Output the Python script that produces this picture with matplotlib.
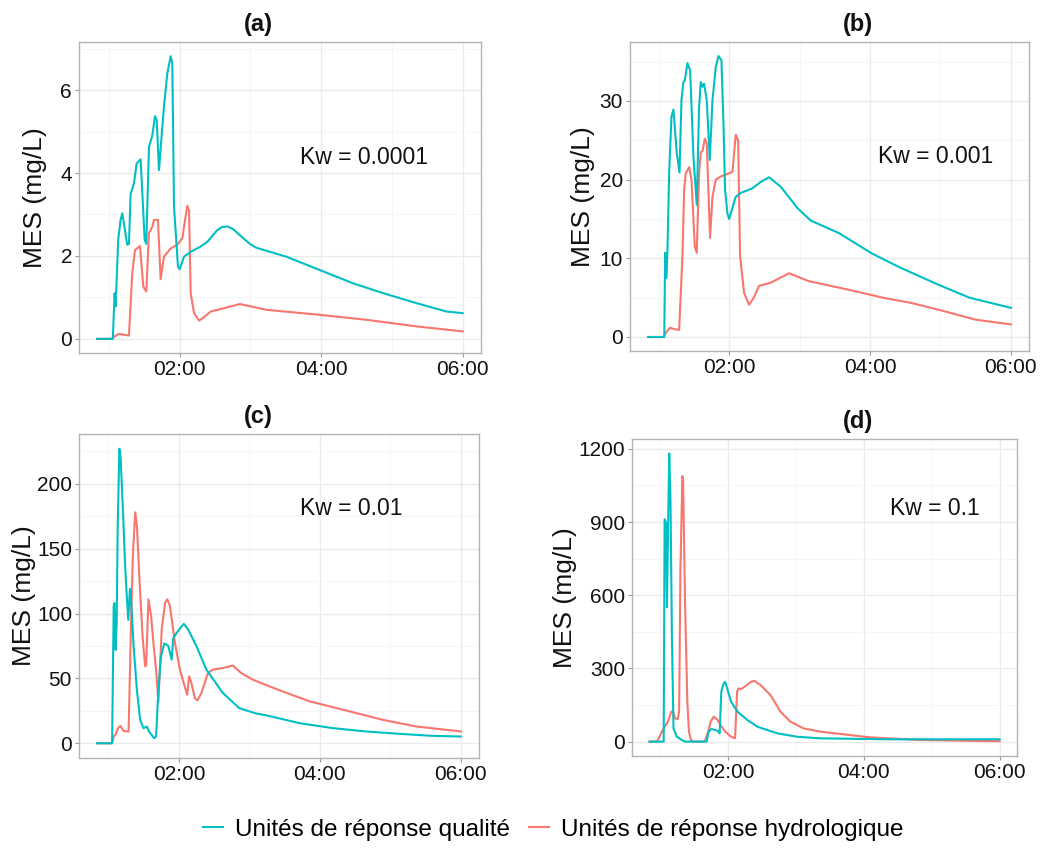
import matplotlib
matplotlib.use("Agg")
import matplotlib.pyplot as plt
from matplotlib.lines import Line2D
from matplotlib.ticker import FuncFormatter, MultipleLocator

plt.rcParams["font.family"] = ["Liberation Sans", "DejaVu Sans"]

teal = "#00BFC4"
red = "#F8766D"
label_q = "Unités de réponse qualité"
label_h = "Unités de réponse hydrologique"

# time in decimal hours, MES in mg/L

# (a) Kw = 0.0001
a_t_q = [0.835, 1.047, 1.055, 1.080, 1.094, 1.132, 1.165, 1.189, 1.259, 1.283, 1.307, 1.354,
         1.392, 1.448, 1.505, 1.528, 1.566, 1.613, 1.651, 1.675, 1.708, 1.731, 1.778, 1.825,
         1.873, 1.896, 1.920, 1.976, 2.000, 2.061, 2.156, 2.290, 2.392, 2.470, 2.530, 2.600,
         2.680, 2.760, 2.850, 3.000, 3.080, 3.510, 3.980, 4.450, 4.880, 5.350, 5.770, 6.000]
a_q = [0, 0, 0, 1.10, 0.78, 2.40, 2.87, 3.03, 2.27, 2.29, 3.50, 3.75,
       4.23, 4.33, 2.40, 2.29, 4.63, 4.90, 5.37, 5.28, 4.07, 4.60, 5.60, 6.40,
       6.82, 6.64, 3.19, 1.74, 1.68, 1.98, 2.10, 2.22, 2.34, 2.50, 2.62, 2.70,
       2.71, 2.64, 2.50, 2.28, 2.20, 1.98, 1.66, 1.34, 1.10, 0.86, 0.66, 0.62]
a_t_h = [0.835, 1.047, 1.071, 1.142, 1.212, 1.283, 1.330, 1.368, 1.439, 1.486, 1.528, 1.566,
         1.613, 1.637, 1.693, 1.731, 1.778, 1.873, 1.967, 2.038, 2.061, 2.108, 2.132, 2.156,
         2.203, 2.274, 2.340, 2.439, 2.627, 2.850, 3.230, 3.980, 4.640, 5.350, 6.000]
a_h = [0, 0, 0.05, 0.12, 0.10, 0.08, 1.58, 2.14, 2.24, 1.26, 1.14, 2.55,
       2.70, 2.87, 2.87, 1.44, 1.98, 2.18, 2.27, 2.43, 2.70, 3.21, 3.10, 1.10,
       0.62, 0.44, 0.52, 0.66, 0.74, 0.84, 0.70, 0.58, 0.46, 0.30, 0.18]

# (b) Kw = 0.001
b_t_q = [0.851, 1.069, 1.080, 1.092, 1.111, 1.125, 1.149, 1.182, 1.210, 1.258, 1.296, 1.324,
         1.352, 1.371, 1.409, 1.447, 1.494, 1.541, 1.574, 1.598, 1.622, 1.645, 1.683, 1.726,
         1.764, 1.811, 1.849, 1.891, 1.920, 1.943, 1.976, 2.000, 2.094, 2.165, 2.331, 2.449,
         2.567, 2.733, 2.969, 3.158, 3.560, 4.030, 4.410, 4.930, 5.410, 6.000]
b_q = [0, 0, 0, 10.7, 7.5, 11.1, 20.8, 28.0, 28.9, 23.3, 20.9, 30.1,
       32.4, 32.6, 34.8, 33.9, 22.9, 16.8, 29.2, 32.4, 31.8, 32.2, 30.1, 22.5,
       30.1, 34.3, 35.7, 35.2, 27.1, 18.7, 15.7, 15.0, 17.8, 18.3, 18.9, 19.7,
       20.3, 19.1, 16.4, 14.8, 13.2, 10.6, 8.9, 6.8, 5.0, 3.7]
b_t_h = [0.851, 1.069, 1.102, 1.163, 1.220, 1.291, 1.338, 1.362, 1.385, 1.433, 1.466, 1.513,
         1.541, 1.574, 1.598, 1.622, 1.655, 1.683, 1.730, 1.764, 1.811, 1.882, 2.000, 2.047,
         2.071, 2.094, 2.128, 2.156, 2.213, 2.284, 2.350, 2.426, 2.591, 2.851, 3.130, 3.700,
         4.180, 4.600, 5.000, 5.500, 6.000]
b_h = [0, 0, 0.55, 1.18, 1.00, 0.90, 10.3, 18.7, 20.8, 21.6, 20.0, 11.5,
       10.7, 20.8, 23.5, 23.6, 25.2, 24.6, 12.6, 17.8, 20.0, 20.4, 20.8, 21.0,
       23.3, 25.7, 25.0, 10.3, 5.6, 4.1, 5.0, 6.5, 6.9, 8.1, 7.1, 6.0,
       5.0, 4.3, 3.4, 2.2, 1.6]

# (c) Kw = 0.01
c_t_q = [0.840, 1.052, 1.075, 1.085, 1.103, 1.117, 1.131, 1.155, 1.174, 1.207, 1.235, 1.263,
         1.282, 1.305, 1.324, 1.357, 1.404, 1.451, 1.498, 1.545, 1.577, 1.648, 1.676, 1.709,
         1.746, 1.793, 1.850, 1.897, 1.920, 1.967, 2.038, 2.070, 2.131, 2.249, 2.390, 2.624,
         2.859, 3.094, 3.240, 3.469, 3.710, 4.180, 4.650, 5.120, 5.600, 6.000]
c_q = [0, 0, 105.8, 108, 72, 93, 165, 227, 219, 178, 139, 111,
       95, 119, 108, 75, 41, 18, 11.6, 12.9, 9, 3.9, 5.2, 41,
       67, 77, 75, 64.5, 81, 85, 90, 92, 87.7, 74.8, 56.8, 38.7,
       27, 23, 21.5, 18.6, 15.5, 11.7, 9.1, 7.3, 5.7, 5.2]
c_t_h = [0.840, 1.052, 1.075, 1.099, 1.136, 1.169, 1.216, 1.286, 1.319, 1.347, 1.380, 1.404,
         1.441, 1.484, 1.521, 1.535, 1.568, 1.606, 1.638, 1.676, 1.709, 1.756, 1.803, 1.836,
         1.873, 1.944, 2.014, 2.117, 2.146, 2.178, 2.225, 2.263, 2.319, 2.413, 2.484, 2.624,
         2.765, 2.883, 3.047, 3.282, 3.469, 3.850, 4.420, 4.890, 5.360, 6.000]
c_h = [0, 0, 5.2, 6.5, 11.6, 13.4, 9.5, 9, 87.7, 144.5, 178, 167.7,
       126, 82.6, 59.3, 60, 111, 98, 77.4, 56.8, 32, 87.7, 108, 111,
       105.8, 77.4, 56.8, 37.4, 51.6, 46.4, 34.8, 33, 38.7, 54.2, 56.8, 58,
       59.9, 54.2, 49, 43.9, 40, 32.4, 24.6, 18.1, 13, 9.1]

# (d) Kw = 0.1
d_t_q = [0.840, 1.049, 1.063, 1.083, 1.097, 1.112, 1.131, 1.150, 1.170, 1.194, 1.243, 1.316,
         1.364, 1.680, 1.714, 1.752, 1.801, 1.850, 1.874, 1.898, 1.932, 1.956, 1.985, 2.044,
         2.141, 2.286, 2.432, 2.723, 3.015, 3.350, 4.330, 6.000]
d_q = [0, 0, 911, 898, 551, 843, 1181, 980, 435, 54, 20, 7,
       0, 0, 41, 52, 48, 43.5, 34, 204, 238, 245, 218, 163,
       122, 88, 61, 34, 20, 13.6, 9.5, 9.5]
d_t_h = [0.840, 0.951, 0.976, 1.024, 1.063, 1.112, 1.160, 1.184, 1.218, 1.257, 1.277, 1.296,
         1.325, 1.335, 1.364, 1.398, 1.422, 1.451, 1.485, 1.655, 1.704, 1.743, 1.786, 1.835,
         1.888, 1.956, 2.044, 2.102, 2.131, 2.150, 2.189, 2.238, 2.335, 2.383, 2.481, 2.626,
         2.772, 2.917, 3.112, 3.354, 3.640, 4.080, 4.820, 6.000]
d_h = [0, 0, 14, 41, 61, 82, 122, 125, 95, 92, 125, 707,
       1088, 1075, 571, 163, 41, 7, 0, 0, 41, 82, 102, 92,
       68, 41, 20, 14, 204, 218, 215, 224, 245, 249, 231, 190,
       122, 82, 54, 41, 32, 17.7, 6.8, 1.4]

panels = [
    ("(a)", "Kw = 0.0001", a_t_q, a_q, a_t_h, a_h, 2, [0.0755, 0.5852, 0.3843, 0.3655], (0.71, 0.63), -0.109, 0.247),
    ("(b)", "Kw = 0.001", b_t_q, b_q, b_t_h, b_h, 10, [0.6023, 0.5875, 0.3815, 0.3631], (0.767, 0.628), -0.118, 0.820),
    ("(c)", "Kw = 0.01", c_t_q, c_q, c_t_h, c_h, 50, [0.0755, 0.1093, 0.3824, 0.3807], (0.68, 0.77), -0.1375, 0.247),
    ("(d)", "Kw = 0.1", d_t_q, d_q, d_t_h, d_h, 300, [0.6042, 0.1116, 0.3681, 0.3725], (0.787, 0.78), -0.174, 0.820),
]


def hhmm(x, pos):
    h = int(x)
    m = int(round((x - h) * 60))
    return "%02d:%02d" % (h, m)


fig = plt.figure(figsize=(10.46, 8.51), dpi=100)
fig.set_facecolor("white")

for title, kw, t_q, q, t_h, h, step, rect, kw_pos, ylab_x, title_x in panels:
    ax = fig.add_axes(rect)
    ax.plot(t_h, h, color=red, lw=1.5)
    ax.plot(t_q, q, color=teal, lw=1.5)

    ax.set_xticks([2, 4, 6])
    ax.set_xticks([1, 3, 5], minor=True)
    ax.xaxis.set_major_formatter(FuncFormatter(hhmm))
    ax.yaxis.set_major_locator(MultipleLocator(step))
    ax.yaxis.set_minor_locator(MultipleLocator(step / 2))

    ax.grid(which="major", color="#ebebeb", lw=1.0)
    ax.grid(which="minor", color="#f5f5f5", lw=0.6)
    ax.set_axisbelow(True)
    for s in ax.spines.values():
        s.set_color("#b3b3b3")
        s.set_linewidth(1.0)
    ax.tick_params(which="major", length=3, color="#999999", labelsize=15,
                   labelcolor="#111111", pad=2)
    ax.tick_params(which="minor", length=0)

    ax.set_ylabel("MES (mg/L)", fontsize=19, color="#111111")
    ax.yaxis.label.set_va("center")
    ax.yaxis.set_label_coords(ylab_x, 0.5)

    ax.text(kw_pos[0], kw_pos[1], kw, transform=ax.transAxes, ha="center", va="center",
            fontsize=16.5, color="#111111")

    top = rect[1] + rect[3]
    fig.text(title_x, top + 0.021, title, ha="center", va="center", fontsize=17,
             fontweight="bold", color="#111111")

handles = [Line2D([], [], color=teal, lw=1.5), Line2D([], [], color=red, lw=1.5)]
fig.legend(handles, [label_q, label_h], loc="center", bbox_to_anchor=(0.529, 0.025), ncol=2,
           frameon=False, fontsize=17.5, handlelength=0.8, handletextpad=0.5, columnspacing=0.8)

fig.savefig("out.png", dpi=100, facecolor="white")
